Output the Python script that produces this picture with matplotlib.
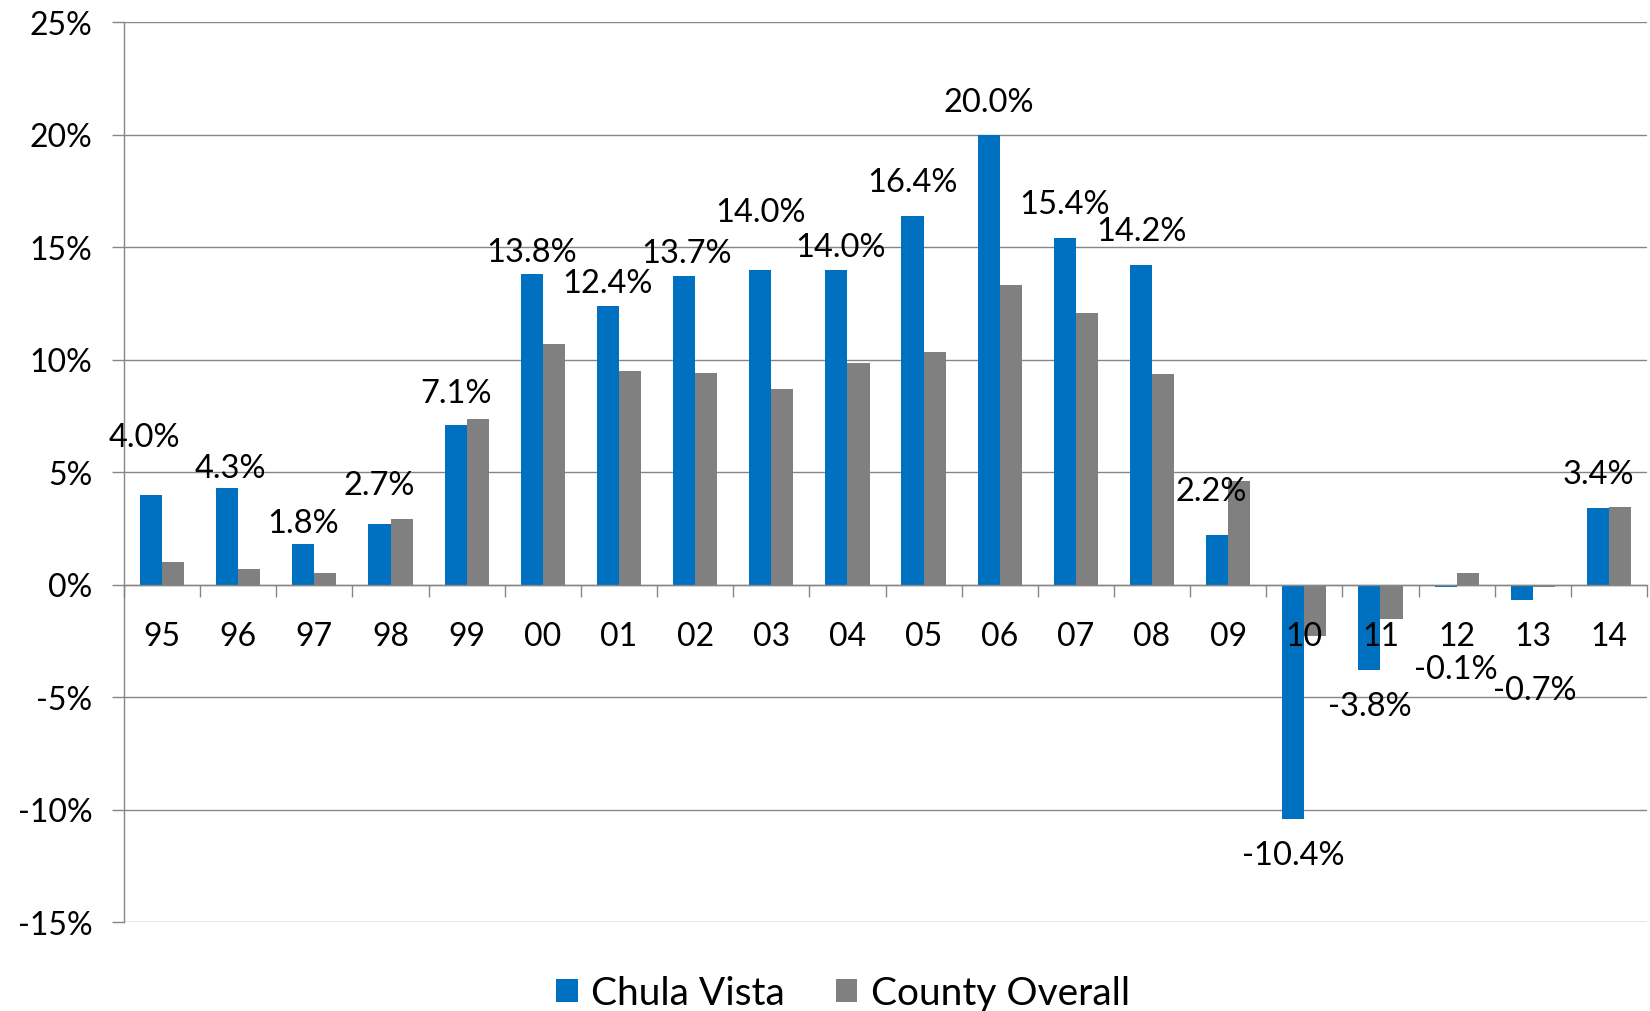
import matplotlib
matplotlib.use("Agg")
import matplotlib.pyplot as plt
import numpy as np

years = ['95', '96', '97', '98', '99', '00', '01', '02', '03', '04',
         '05', '06', '07', '08', '09', '10', '11', '12', '13', '14']
chula_vista = [4.0, 4.3, 1.8, 2.7, 7.1, 13.8, 12.4, 13.7, 14.0, 14.0,
               16.4, 20.0, 15.4, 14.2, 2.2, -10.4, -3.8, -0.1, -0.7, 3.4]
county = [1.0, 0.7, 0.5, 2.9, 7.35, 10.7, 9.5, 9.4, 8.7, 9.85,
          10.35, 13.3, 12.05, 9.35, 4.6, -2.3, -1.55, 0.5, -0.12, 3.45]

# label nudges (points) relative to the end of each Chula Vista bar
label_dx = [-4.5, 2.3, 0, 0, 0, 0, 0, 1.5, 0, 3,
            0, 0, 0, 0, -4.5, 0, 0, 7.6, 9.1, 0]
label_dy = [41.6, 14.4, 15.1, 28, 22.7, 15.9, 15.9, 16.7, 41.6, 15.9,
            24.2, 23.5, 24.2, 24.2, 31.8, -26.5, -25.7, -59, -64.3, 24.2]

plt.rcParams['font.family'] = ['Lato', 'DejaVu Sans']

blue = '#0070C0'
grey = '#808080'
axis_col = '#868686'

fig = plt.figure(figsize=(16.5, 10.12), dpi=100)
ax = fig.add_axes([124 / 1650, 1 - 923 / 1012, (1647 - 124) / 1650, 900 / 1012])

x = np.arange(len(years))
w = 0.29
ax.bar(x - w / 2, chula_vista, w, color=blue, label='Chula Vista', zorder=2)
ax.bar(x + w / 2, county, w, color=grey, label='County Overall', zorder=2)

for i, v in enumerate(chula_vista):
    ax.annotate(f'{v:.1f}%', (x[i] - w / 2, v), xytext=(label_dx[i], label_dy[i]),
                textcoords='offset points', ha='center', va='center',
                fontsize=23.5, color='black', zorder=5)

ax.set_xlim(-0.5, len(years) - 0.5)
ax.set_ylim(-15, 25)
ax.set_yticks(np.arange(-15, 26, 5))
ax.set_yticklabels([f'{t}%' for t in range(-15, 26, 5)])
ax.set_axisbelow(True)
ax.yaxis.grid(True, color=axis_col, lw=1.0)
ax.tick_params(axis='y', length=8.6, width=1.0, color=axis_col, pad=14, labelsize=23)

for s in ['top', 'right']:
    ax.spines[s].set_visible(False)
ax.spines['left'].set_color(axis_col)
ax.spines['left'].set_linewidth(1.0)
ax.spines['bottom'].set_position(('data', 0))
ax.spines['bottom'].set_color(axis_col)
ax.spines['bottom'].set_linewidth(1.0)
ax.spines['bottom'].set_zorder(4)

ax.set_xticks(np.arange(-0.5, len(years), 1.0))
ax.set_xticklabels([])
ax.set_xticks(x, minor=True)
ax.set_xticklabels(years, minor=True)
ax.tick_params(axis='x', which='major', length=8.6, width=1.0, color=axis_col)
ax.tick_params(axis='x', which='minor', length=0, pad=26, labelsize=23)
# category labels sit on top of the bars, as in the original
ax.xaxis.set_zorder(4)

fig.legend(loc='center', bbox_to_anchor=(843 / 1650, 1 - 994 / 1012), ncol=2,
           frameon=False, fontsize=28, handlelength=0.55, handleheight=0.55,
           handletextpad=0.35, columnspacing=1.3)

fig.savefig('out.png', dpi=100)
